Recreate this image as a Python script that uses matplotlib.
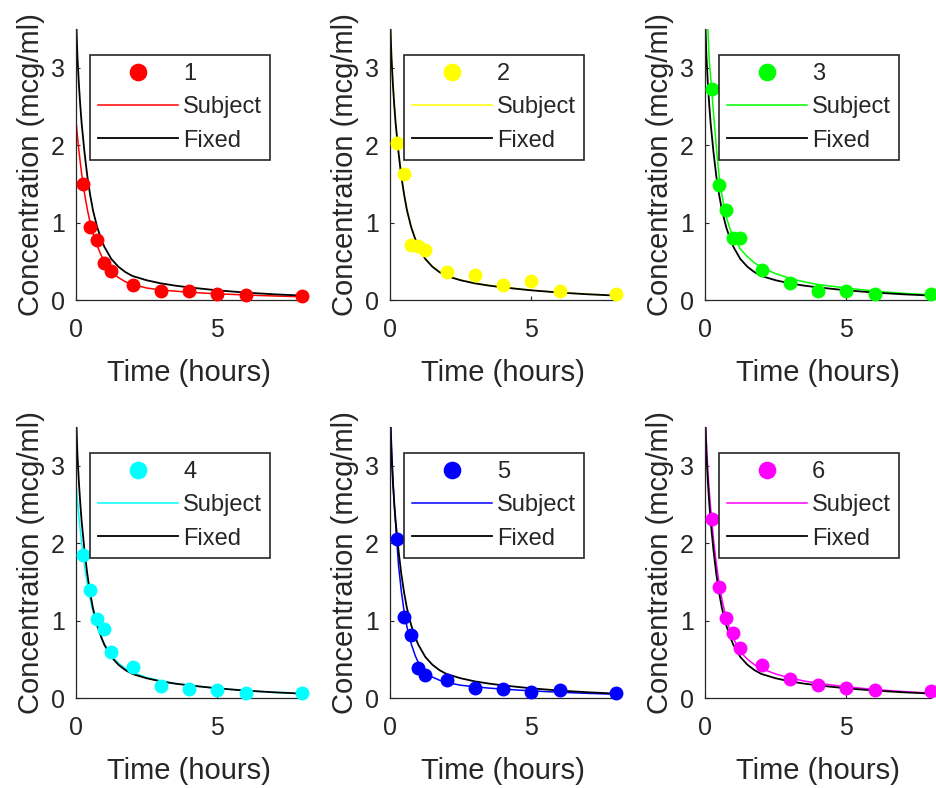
"""
Indomethacin concentration per subject with subject and fixed-effects fits.
"""

import matplotlib
matplotlib.use("Agg")
import matplotlib.pyplot as plt

plt.rcParams["font.family"] = ["Liberation Sans", "DejaVu Sans"]

# measured data (hours, mcg/ml)
time = [0.25, 0.5, 0.75, 1, 1.25, 2, 3, 4, 5, 6, 8]
conc = [
    [1.50, 0.94, 0.78, 0.48, 0.37, 0.19, 0.12, 0.11, 0.08, 0.07, 0.05],
    [2.03, 1.63, 0.71, 0.70, 0.64, 0.36, 0.32, 0.20, 0.25, 0.12, 0.08],
    [2.72, 1.49, 1.16, 0.80, 0.80, 0.39, 0.22, 0.12, 0.11, 0.08, 0.08],
    [1.85, 1.39, 1.02, 0.89, 0.59, 0.40, 0.16, 0.11, 0.10, 0.07, 0.07],
    [2.05, 1.04, 0.81, 0.39, 0.30, 0.23, 0.13, 0.11, 0.08, 0.10, 0.06],
    [2.31, 1.44, 1.03, 0.84, 0.64, 0.42, 0.24, 0.17, 0.13, 0.10, 0.09],
]
subjects = ["1", "2", "3", "4", "5", "6"]
colors = ["#ff0000", "#ffff00", "#00ff00", "#00ffff", "#0000ff", "#ff00ff"]

# fitted curves
t_fit = [0, 0.05, 0.1, 0.15, 0.2, 0.3, 0.4, 0.5, 0.6, 0.75, 0.9, 1, 1.25,
         1.5, 1.75, 2, 2.5, 3, 3.5, 4, 5, 6, 7, 8]
fixed_fit = [3.7, 3.15, 2.8, 2.52, 2.28, 1.91, 1.6, 1.36, 1.16, 0.94, 0.78,
             0.69, 0.53, 0.43, 0.36, 0.31, 0.255, 0.215, 0.186, 0.163,
             0.125, 0.096, 0.074, 0.057]
subject_fit = [
    [2.32, 2.12, 1.94, 1.78, 1.63, 1.38, 1.17, 1.0, 0.86, 0.7, 0.57, 0.5,
     0.37, 0.29, 0.235, 0.2, 0.155, 0.13, 0.115, 0.1, 0.08, 0.065, 0.052,
     0.042],
    [3.75, 3.2, 2.82, 2.53, 2.29, 1.92, 1.61, 1.37, 1.17, 0.945, 0.785,
     0.695, 0.535, 0.435, 0.365, 0.315, 0.26, 0.22, 0.19, 0.167, 0.128,
     0.098, 0.076, 0.058],
    [4.6, 4.0, 3.5, 3.1, 2.88, 2.42, 1.98, 1.6, 1.35, 1.08, 0.9, 0.82, 0.66,
     0.56, 0.48, 0.42, 0.34, 0.28, 0.235, 0.2, 0.155, 0.115, 0.087, 0.066],
    [2.78, 2.55, 2.35, 2.17, 2.0, 1.71, 1.47, 1.28, 1.12, 0.93, 0.78, 0.7,
     0.55, 0.45, 0.38, 0.33, 0.265, 0.22, 0.19, 0.165, 0.125, 0.095, 0.072,
     0.055],
    [3.8, 3.3, 2.85, 2.5, 2.25, 1.72, 1.38, 1.12, 0.92, 0.7, 0.54, 0.46,
     0.34, 0.27, 0.23, 0.2, 0.165, 0.145, 0.128, 0.115, 0.092, 0.074, 0.06,
     0.048],
    [3.7, 3.3, 2.95, 2.68, 2.45, 2.05, 1.74, 1.48, 1.27, 1.03, 0.86, 0.77,
     0.6, 0.5, 0.43, 0.38, 0.31, 0.26, 0.22, 0.19, 0.145, 0.11, 0.084,
     0.064],
]

dark = "#262626"
fig = plt.figure(figsize=(9.36, 7.88), dpi=100)

lefts = [76, 390, 705]
bottoms = [300, 698]  # pixel row of y=0

for i in range(6):
    row, col = divmod(i, 3)
    ax = fig.add_axes([lefts[col] / 936, (788 - bottoms[row]) / 788,
                       226 / 936, 271 / 788])

    ax.plot(time, conc[i], "o", color=colors[i], markersize=9,
            label=subjects[i], clip_on=False, zorder=3)
    ax.plot(t_fit, subject_fit[i], color=colors[i], lw=1.1, label="Subject")
    ax.plot(t_fit, fixed_fit, color="black", lw=1.3, label="Fixed")

    ax.set_xlim(0, 8)
    ax.set_ylim(0, 3.5)
    ax.set_xticks([0, 5])
    ax.set_yticks([0, 1, 2, 3])

    # box off, matlab-like axes
    for side in ["top", "right"]:
        ax.spines[side].set_visible(False)
    for side in ["left", "bottom"]:
        ax.spines[side].set_color(dark)
        ax.spines[side].set_linewidth(0.9)
    ax.tick_params(direction="in", length=3, width=0.8, colors=dark,
                   labelsize=18)
    ax.tick_params(axis="x", pad=13)
    ax.tick_params(axis="y", pad=8)

    ax.set_xlabel("Time (hours)", fontsize=21, color=dark, labelpad=12)
    ax.set_ylabel("Concentration (mcg/ml)", fontsize=21, color=dark,
                  labelpad=4)

    leg = ax.legend(loc="upper right", bbox_to_anchor=(0.86, 0.905),
                    borderaxespad=0, fontsize=17, handlelength=3.4,
                    handletextpad=0.2, labelspacing=0.48, borderpad=0.35,
                    markerscale=1.3, numpoints=1, fancybox=False,
                    framealpha=1)
    leg.get_frame().set_edgecolor(dark)
    leg.get_frame().set_linewidth(1.2)
    for text in leg.get_texts():
        text.set_color(dark)

fig.savefig("out.png", dpi=100)
